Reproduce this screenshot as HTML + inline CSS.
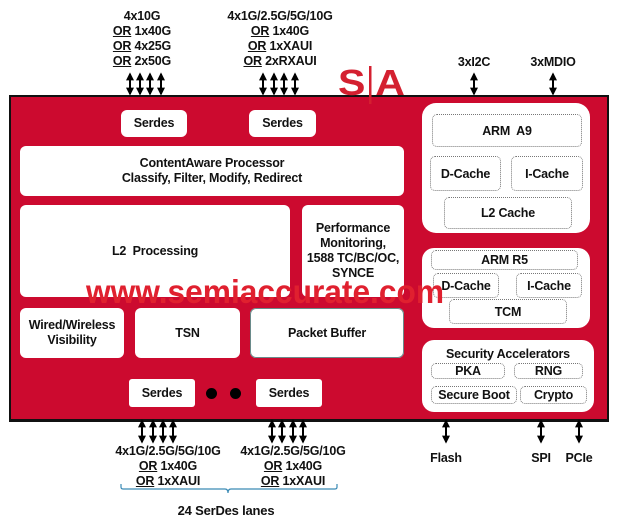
<!DOCTYPE html>
<html><head><meta charset="utf-8"><style>
body{margin:0;width:617px;height:525px;background:#fff;position:relative;overflow:hidden;font-family:"Liberation Sans",Arial,sans-serif;font-weight:bold;font-size:12.5px;color:#111}
.a{position:absolute}
.w{position:absolute;background:#fff;border-radius:6px;display:flex;align-items:center;justify-content:center;text-align:center;line-height:15px;letter-spacing:-0.2px}
.d{position:absolute;border:1px dotted #777;border-radius:5px;display:flex;align-items:center;justify-content:center;box-sizing:border-box;letter-spacing:-0.2px}
.t{position:absolute;text-align:center;line-height:15px;letter-spacing:-0.2px;font-size:12.5px}
u{text-decoration:underline}
</style></head><body>
<div class="a" style="left:9px;top:95px;width:596px;height:322px;background:#cc0a2f;border:2px solid #111;border-bottom-width:3px"></div>

<div class="w" style="left:121px;top:110px;width:66px;height:27px">Serdes</div>
<div class="w" style="left:249px;top:110px;width:67px;height:27px">Serdes</div>
<div class="w" style="left:20px;top:146px;width:384px;height:50px">ContentAware Processor<br>Classify, Filter, Modify, Redirect</div>
<div class="w" style="left:20px;top:205px;width:270px;height:92px">L2&nbsp; Processing</div>
<div class="w" style="left:302px;top:205px;width:102px;height:92px">Performance<br>Monitoring,<br>1588 TC/BC/OC,<br>SYNCE</div>
<div class="w" style="left:20px;top:308px;width:104px;height:50px">Wired/Wireless<br>Visibility</div>
<div class="w" style="left:135px;top:308px;width:105px;height:50px">TSN</div>
<div class="w" style="left:250px;top:308px;width:154px;height:50px;box-shadow:inset 0 0 0 1px #6a8a8a">Packet Buffer</div>
<div class="w" style="left:129px;top:379px;width:66px;height:28px;border-radius:3px">Serdes</div>
<div class="w" style="left:256px;top:379px;width:66px;height:28px;border-radius:3px">Serdes</div>
<div class="a" style="left:206px;top:388px;width:11px;height:11px;border-radius:50%;background:#000"></div>
<div class="a" style="left:230px;top:388px;width:11px;height:11px;border-radius:50%;background:#000"></div>

<div class="w" style="left:422px;top:103px;width:168px;height:130px;border-radius:14px"></div>
<div class="d" style="left:432px;top:114px;width:150px;height:33px">ARM&nbsp; A9</div>
<div class="d" style="left:430px;top:156px;width:71px;height:35px">D-Cache</div>
<div class="d" style="left:511px;top:156px;width:72px;height:35px">I-Cache</div>
<div class="d" style="left:444px;top:197px;width:128px;height:32px">L2 Cache</div>

<div class="w" style="left:422px;top:248px;width:168px;height:80px;border-radius:12px"></div>
<div class="d" style="left:431px;top:250px;width:147px;height:20px">ARM R5</div>
<div class="d" style="left:433px;top:273px;width:66px;height:25px">D-Cache</div>
<div class="d" style="left:516px;top:273px;width:66px;height:25px">I-Cache</div>
<div class="d" style="left:449px;top:299px;width:118px;height:25px">TCM</div>

<div class="w" style="left:422px;top:340px;width:172px;height:72px;border-radius:12px"></div>
<div class="t" style="left:422px;top:347px;width:172px">Security Accelerators</div>
<div class="d" style="left:431px;top:363px;width:74px;height:16px">PKA</div>
<div class="d" style="left:514px;top:363px;width:69px;height:16px">RNG</div>
<div class="d" style="left:431px;top:386px;width:86px;height:18px">Secure Boot</div>
<div class="d" style="left:520px;top:386px;width:67px;height:18px">Crypto</div>

<div class="t" style="left:92px;top:9px;width:100px">4x10G<br><u>OR</u> 1x40G<br><u>OR</u> 4x25G<br><u>OR</u> 2x50G</div>
<div class="t" style="left:210px;top:9px;width:140px">4x1G/2.5G/5G/10G<br><u>OR</u> 1x40G<br><u>OR</u> 1xXAUI<br><u>OR</u> 2xRXAUI</div>
<div class="t" style="left:444px;top:55px;width:60px">3xI2C</div>
<div class="t" style="left:518px;top:55px;width:70px">3xMDIO</div>
<div class="t" style="left:98px;top:444px;width:140px">4x1G/2.5G/5G/10G<br><u>OR</u> 1x40G<br><u>OR</u> 1xXAUI</div>
<div class="t" style="left:223px;top:444px;width:140px">4x1G/2.5G/5G/10G<br><u>OR</u> 1x40G<br><u>OR</u> 1xXAUI</div>
<div class="t" style="left:166px;top:503px;width:120px;font-size:13px">24 SerDes lanes</div>
<div class="t" style="left:416px;top:451px;width:60px">Flash</div>
<div class="t" style="left:521px;top:451px;width:40px">SPI</div>
<div class="t" style="left:559px;top:451px;width:40px">PCIe</div>

<svg class="a" style="left:0;top:0" width="617" height="525">
<defs><marker id="m" viewBox="0 0 10 10" refX="8" refY="5" markerWidth="4" markerHeight="4" orient="auto-start-reverse"><path d="M0,0L10,5L0,10z" fill="#000"/></marker></defs>
<g stroke="#000" stroke-width="2" marker-start="url(#m)" marker-end="url(#m)">
<line x1="130" y1="74" x2="130" y2="94"/><line x1="140" y1="74" x2="140" y2="94"/><line x1="150" y1="74" x2="150" y2="94"/><line x1="161" y1="74" x2="161" y2="94"/>
<line x1="263" y1="74" x2="263" y2="94"/><line x1="274" y1="74" x2="274" y2="94"/><line x1="284" y1="74" x2="284" y2="94"/><line x1="295" y1="74" x2="295" y2="94"/>
<line x1="474" y1="74" x2="474" y2="94"/><line x1="553" y1="74" x2="553" y2="94"/>
<line x1="142" y1="421" x2="142" y2="442"/><line x1="153" y1="421" x2="153" y2="442"/><line x1="163" y1="421" x2="163" y2="442"/><line x1="173" y1="421" x2="173" y2="442"/>
<line x1="272" y1="421" x2="272" y2="442"/><line x1="282" y1="421" x2="282" y2="442"/><line x1="293" y1="421" x2="293" y2="442"/><line x1="303" y1="421" x2="303" y2="442"/>
<line x1="446" y1="421" x2="446" y2="442"/><line x1="541" y1="421" x2="541" y2="442"/><line x1="579" y1="421" x2="579" y2="442"/>
</g>
<path d="M121,484 v3 q0,2 2,2 H225 q3,0 3,4 q0,-4 3,-4 H335 q2,0 2,-2 v-3" fill="none" stroke="#3a8ab5" stroke-width="1.2"/>
<text x="338" y="95" font-family="Liberation Sans,sans-serif" font-weight="bold" font-size="36" fill="#d42030" textLength="67" lengthAdjust="spacingAndGlyphs">S A</text>
<rect x="369" y="66" width="2.5" height="38" fill="#d42030"/>
<text x="86" y="303" font-family="Liberation Sans,sans-serif" font-size="33" fill="#e0202f" textLength="358" lengthAdjust="spacingAndGlyphs">www.semiaccurate.com</text>
</svg>
</body></html>
